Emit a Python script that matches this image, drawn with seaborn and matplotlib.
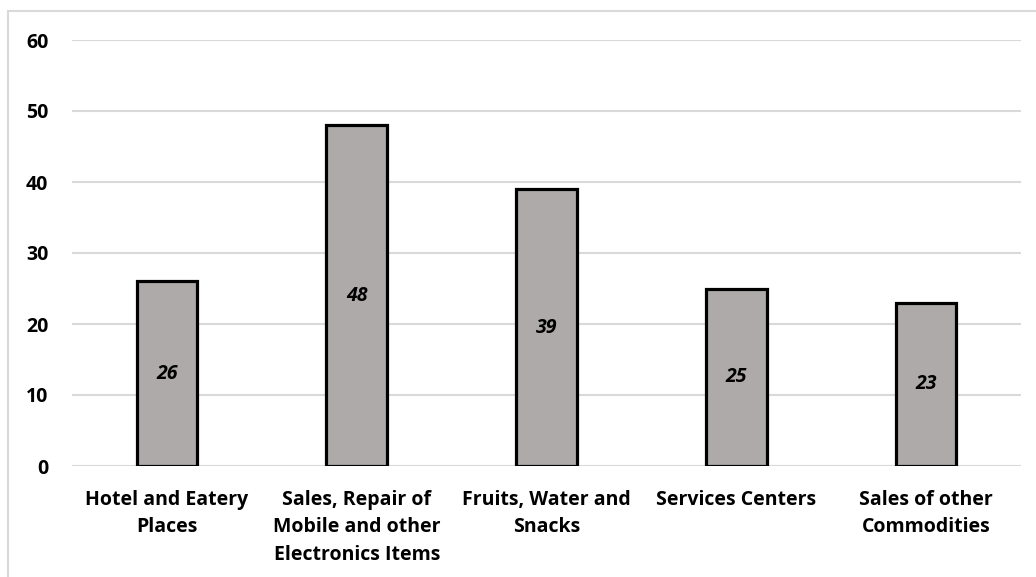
import pandas as pd
import seaborn as sns
from matplotlib import pyplot as plt
from matplotlib.patches import Rectangle

# данные с картинки
categories = ['Hotel and Eatery\nPlaces',
              'Sales, Repair of\nMobile and other\nElectronics Items',
              'Fruits, Water and\nSnacks',
              'Services Centers',
              'Sales of other\nCommodities']
values = [26, 48, 39, 25, 23]
y_ticks = [0, 10, 20, 30, 40, 50, 60]

df = pd.DataFrame({'cat': categories, 'val': values})

sns.set_style('white')
plt.rcParams['font.family'] = ['Open Sans', 'DejaVu Sans']
plt.rcParams['text.color'] = 'black'
plt.rcParams['xtick.color'] = 'black'
plt.rcParams['ytick.color'] = 'black'

fig = plt.figure(figsize=(10.36, 5.77), dpi=100)
ax = fig.add_axes([72 / 1036, 1 - 466 / 577, (1021 - 72) / 1036, (466 - 40) / 577])

sns.barplot(data=df, x='cat', y='val', color='#AEAAAA', width=0.32,
            edgecolor='black', linewidth=2.3, saturation=1, ax=ax, zorder=3)

# подписи внутри столбцов
for i, v in enumerate(values):
    ax.text(i, v / 2, str(v), ha='center', va='center', fontsize=14,
            fontweight='bold', fontstyle='italic', zorder=4)

ax.set_ylim(0, 60)
ax.set_yticks(y_ticks)
ax.yaxis.grid(True, color='#D9D9D9', linewidth=1.5, zorder=0)
ax.set_axisbelow(True)
for s in ax.spines.values():
    s.set_visible(False)
ax.set_xlabel('')
ax.set_ylabel('')
ax.tick_params(axis='both', length=0, labelsize=14)
ax.tick_params(axis='y', pad=17)
ax.tick_params(axis='x', pad=17)
for lab in ax.get_xticklabels() + ax.get_yticklabels():
    lab.set_fontweight('bold')
for lab in ax.get_xticklabels():
    lab.set_linespacing(1.5)

# рамка вокруг диаграммы
fig.patches.append(Rectangle((8 / 1036, -0.1), 1.2, 1.1 - 11 / 577,
                             transform=fig.transFigure, fill=False,
                             edgecolor='#D9D9D9', linewidth=1.5))

fig.savefig('out.png', dpi=100)
